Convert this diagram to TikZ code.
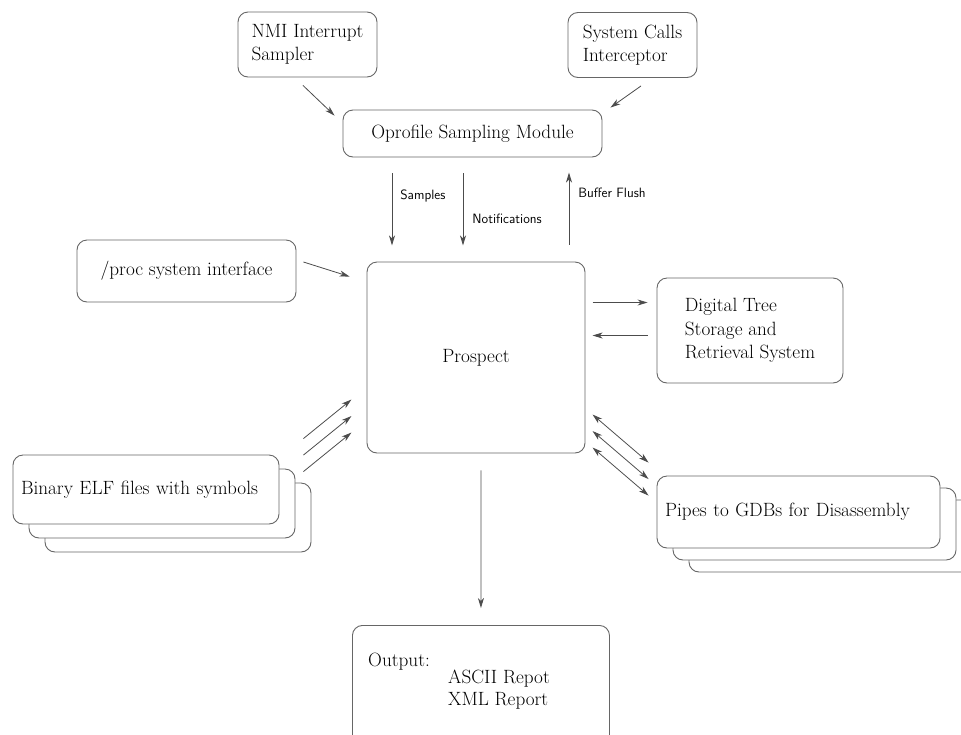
\documentclass[tikz,border=0pt]{standalone}
\usepackage{tikz}
\usetikzlibrary{arrows.meta,calc,positioning}

\begin{document}
\begin{tikzpicture}[x=1pt,y=-1pt]
\tikzset{box/.style = {draw=black!60, line width=0.9pt, rounded corners=10pt, align=left, font=\fontsize{19.2}{23.5}\selectfont}}
\tikzset{stackbox/.style = {box, fill=white, inner xsep=8pt}}
\tikzset{txt/.style = {inner sep=0pt, align=left, font=\fontsize{19.2}{22}\selectfont}}
\tikzset{tag/.style = {inner sep=0pt, font=\sffamily\fontsize{13.5}{15}\selectfont}}
\tikzset{edge/.style = {draw=black!70, line width=0.8pt, ->, > = {Stealth[length=10pt,width=6pt,inset=3pt]}}}
\useasboundingbox (0,0) rectangle (961,734);
\node[box, minimum width=139pt, minimum height=65pt] (nmi) at (307.5,44.5) {NMI Interrupt\\Sampler};
\node[box, minimum width=129pt, minimum height=65pt] (sys) at (632.5,45) {System Calls\\Interceptor};
\node[box, minimum width=259pt, minimum height=47pt] (opro) at (472.5,133.5) {Oprofile Sampling Module};
\node[box, minimum width=219pt, minimum height=62pt] (proc) at (186.5,271) {/proc system interface};
\node[box, minimum width=218pt, minimum height=191pt] (prospect) at (476,357.5) {Prospect};
\node[box, minimum width=186pt, minimum height=105pt] (digital) at (750,330.5) {Digital Tree\\Storage and\\Retrieval System};
% stacked boxes
\coordinate (elfpos) at (146,489.5);
\foreach \i in {2,1}
  \node[stackbox, minimum width=266pt, minimum height=69pt] (elf\i) at ($(elfpos)+(16*\i,14*\i)$) {};
\node[stackbox, text width=250pt, minimum height=69pt] (elf) at (elfpos) {Binary ELF files with symbols};
\coordinate (gdbpos) at (798.5,512);
\foreach \i in {2,1}
  \node[stackbox, minimum width=283pt, minimum height=72pt] (gdb\i) at ($(gdbpos)+(16*\i,12*\i)$) {};
\node[stackbox, text width=267pt, minimum height=72pt] (gdb) at (gdbpos) {Pipes to GDBs for Disassembly};
% output
\node[box, anchor=north west, minimum width=257pt, minimum height=150pt] (out) at (352,625) {};
\node[txt, anchor=base west] (outlbl) at (368,666) {Output:};
\node[txt, anchor=base west] (outlist) at (448,705) {ASCII Repot\\XML Report};
% connectors
\draw[edge] ($(nmi.south)+(-4.5,8)$) -- ($(opro.north west)+(-8,6)$);
\draw[edge] ($(sys.south)+(8.5,8)$) -- ($(opro.north east)+(8,-2)$);
\draw[edge] ($(opro.south)+(-80.5,16)$) -- ++(0,72) node[tag, pos=0.31, right=8pt] (samples) {Samples};
\draw[edge] ($(opro.south)+(-9.5,16)$) -- ++(0,72) node[tag, pos=0.625, right=9pt] (notif) {Notifications};
\draw[edge] ($(prospect.north)+(93,-17)$) -- ++(0,-72) node[tag, pos=0.72, right=9pt] (flush) {Buffer Flush};
\draw[edge] ($(proc.east)+(7,-9)$) -- ($(prospect.north west)+(-17,15)$);
\draw[edge] ($(digital.west)+(-64,-28)$) -- ($(digital.west)+(-9,-28)$);
\draw[edge] ($(digital.west)+(-9,5)$) -- ($(digital.west)+(-64,5)$);
\foreach \d in {0,16.5,33}
  \draw[edge, <->] ($(gdb.north west)+(-64,-61+\d)$) -- ($(gdb.north west)+(-8,-13+\d)$);
\foreach \d in {0,16.5,33}
  \draw[edge] ($(elf.north east)+(24,-16+\d)$) -- ($(elf.north east)+(72,-55+\d)$);
\draw[edge] ($(prospect.south)+(5,17)$) -- ($(out.north)+(0,-17)$);
\end{tikzpicture}
\end{document}
